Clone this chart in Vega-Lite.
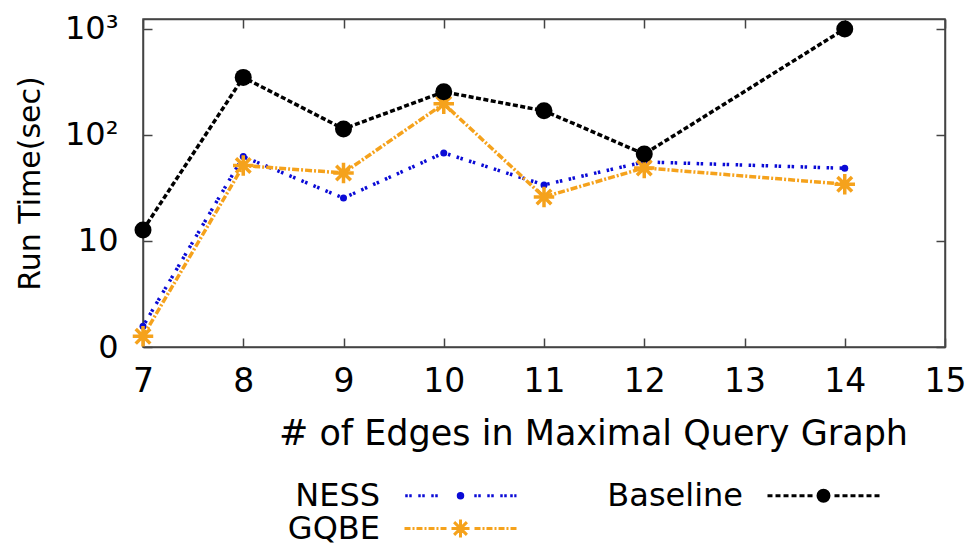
{
  "$schema": "https://vega.github.io/schema/vega-lite/v6.json",
  "width": 802,
  "height": 328,
  "autosize": {"type": "none"},
  "padding": {"left": 143, "top": 19, "right": 34, "bottom": 197},
  "background": "white",
  "config": {
    "font": "DejaVu Sans",
    "view": {"stroke": "#444", "strokeWidth": 1.5},
    "axis": {"grid": false, "domainColor": "#444", "domainWidth": 1.5, "tickColor": "#444", "tickWidth": 1.5, "labelColor": "#000", "titleColor": "#000", "titleFontWeight": "normal", "labelFont": "DejaVu Sans", "titleFont": "DejaVu Sans"},
    "legend": {"labelFont": "DejaVu Sans"}
  },
  "data": {
    "values": [
      {"edges": 7, "series": "NESS", "time": 1.57},
      {"edges": 8, "series": "NESS", "time": 62.5},
      {"edges": 9, "series": "NESS", "time": 25.4},
      {"edges": 10, "series": "NESS", "time": 67.7},
      {"edges": 11, "series": "NESS", "time": 33.8},
      {"edges": 12, "series": "NESS", "time": 55.7},
      {"edges": 14, "series": "NESS", "time": 48.5},
      {"edges": 7, "series": "GQBE", "time": 1.26},
      {"edges": 8, "series": "GQBE", "time": 51.4},
      {"edges": 9, "series": "GQBE", "time": 43.8},
      {"edges": 10, "series": "GQBE", "time": 197},
      {"edges": 11, "series": "GQBE", "time": 26},
      {"edges": 12, "series": "GQBE", "time": 48.9},
      {"edges": 14, "series": "GQBE", "time": 34.3},
      {"edges": 7, "series": "Baseline", "time": 12.7},
      {"edges": 8, "series": "Baseline", "time": 349},
      {"edges": 9, "series": "Baseline", "time": 114},
      {"edges": 10, "series": "Baseline", "time": 255},
      {"edges": 11, "series": "Baseline", "time": 169},
      {"edges": 12, "series": "Baseline", "time": 66},
      {"edges": 14, "series": "Baseline", "time": 1000}
    ]
  },
  "resolve": {
    "axis": {"x": "independent", "y": "independent"},
    "scale": {"shape": "independent", "fill": "independent", "stroke": "independent"}
  },
  "layer": [
    {
      "transform": [{"filter": "datum.series == 'NESS'"}],
      "mark": {"type": "line", "strokeWidth": 3.5, "stroke": "#0b0bd6", "strokeDash": [2.5, 1.5, 2.5, 6.5]},
      "encoding": {
        "x": {"field": "edges", "type": "quantitative", "scale": {"domain": [7, 15], "nice": false, "zero": false},
          "axis": {"orient": "bottom", "values": [7, 8, 9, 10, 11, 12, 13, 14, 15], "tickSize": -9, "labelPadding": 27, "labelFontSize": 33, "labelFlush": false,
            "title": "# of Edges in Maximal Query Graph", "titleFontSize": 35, "titleX": 450, "titleY": 86, "titleBaseline": "middle"}},
        "y": {"field": "time", "type": "quantitative", "scale": {"type": "log", "domain": [1, 1240], "nice": false},
          "axis": {"orient": "left", "values": [1, 10, 100, 1000], "tickSize": -9, "labelPadding": 34, "labelFontSize": 32, "labelFlush": false,
            "labelExpr": "datum.value == 1 ? '0' : datum.value == 10 ? '10' : datum.value == 100 ? '10²' : '10³'",
            "title": "Run Time(sec)", "titleFontSize": 30, "titleX": -113, "titleBaseline": "middle"}}
      }
    },
    {
      "transform": [{"filter": "datum.series == 'NESS'"}],
      "mark": {"type": "point", "filled": true, "opacity": 1, "shape": "circle", "fill": "#0b0bd6", "size": 49},
      "encoding": {
        "x": {"field": "edges", "type": "quantitative", "axis": null},
        "y": {"field": "time", "type": "quantitative", "axis": null}
      }
    },
    {
      "transform": [{"filter": "datum.series == 'GQBE'"}],
      "mark": {"type": "line", "strokeWidth": 3.5, "stroke": "#f5a21c", "strokeDash": [7, 2, 2, 2]},
      "encoding": {
        "x": {"field": "edges", "type": "quantitative", "axis": null},
        "y": {"field": "time", "type": "quantitative", "axis": null}
      }
    },
    {
      "transform": [{"filter": "datum.series == 'GQBE'"}],
      "mark": {"type": "point", "filled": false, "opacity": 1, "stroke": "#f5a21c", "strokeWidth": 3.5, "size": 420,
        "shape": "M-1,0L1,0M0,-1L0,1M-0.71,-0.71L0.71,0.71M-0.71,0.71L0.71,-0.71"},
      "encoding": {
        "x": {"field": "edges", "type": "quantitative", "axis": null},
        "y": {"field": "time", "type": "quantitative", "axis": null}
      }
    },
    {
      "transform": [{"filter": "datum.series == 'Baseline'"}],
      "mark": {"type": "line", "strokeWidth": 3.5, "stroke": "#000000", "strokeDash": [5, 2.5]},
      "encoding": {
        "x": {"field": "edges", "type": "quantitative", "axis": null},
        "y": {"field": "time", "type": "quantitative", "axis": null}
      }
    },
    {
      "transform": [{"filter": "datum.series == 'Baseline'"}],
      "mark": {"type": "point", "filled": true, "opacity": 1, "shape": "circle", "fill": "#000000", "size": 289},
      "encoding": {
        "x": {"field": "edges", "type": "quantitative", "axis": null},
        "y": {"field": "time", "type": "quantitative", "axis": null}
      }
    },
    {
      "transform": [{"filter": "datum.series != 'GQBE'"}],
      "mark": {"type": "point", "filled": true, "opacity": 0},
      "encoding": {
        "x": {"field": "edges", "type": "quantitative",
          "axis": {"orient": "top", "values": [7, 8, 9, 10, 11, 12, 13, 14, 15], "tickSize": -9, "labels": false, "title": null}},
        "y": {"field": "time", "type": "quantitative",
          "axis": {"orient": "right", "values": [1, 10, 100, 1000], "tickSize": -9, "labels": false, "title": null}},
        "fill": {"field": "series", "type": "nominal", "scale": {"domain": ["NESS", "Baseline"], "range": ["#0b0bd6", "#000000"]}},
        "stroke": {"field": "series", "type": "nominal", "scale": {"domain": ["NESS", "Baseline"], "range": ["#0b0bd6", "#000000"]}},
        "shape": {"field": "series", "type": "nominal",
          "scale": {"domain": ["NESS", "Baseline"], "range": [
            "M-0.987,0L-0.942,0M-0.915,0L-0.871,0M-0.754,0L-0.71,0M-0.683,0L-0.638,0M-0.522,0L-0.478,0M-0.451,0L-0.406,0M0.246,0L0.29,0M0.317,0L0.362,0M0.478,0L0.522,0M0.549,0L0.594,0M0.71,0L0.754,0M0.781,0L0.826,0M0.888,0L0.933,0M0.96,0L1,0M0.04,0A0.04,0.04,0,1,1,-0.04,0A0.04,0.04,0,1,1,0.04,0Z",
            "M-1,0L-0.911,0M-0.857,0L-0.768,0M-0.714,0L-0.625,0M-0.571,0L-0.482,0M-0.429,0L-0.339,0M-0.286,0L-0.196,0M0.196,0L0.286,0M0.339,0L0.429,0M0.482,0L0.571,0M0.625,0L0.714,0M0.768,0L0.857,0M0.911,0L1,0M0.098,0A0.098,0.098,0,1,1,-0.098,0A0.098,0.098,0,1,1,0.098,0Z"
          ]},
          "legend": {"orient": "none", "legendX": 260, "legendY": 419, "columns": 2, "direction": "vertical", "title": null, "labelFontSize": 32, "labelColor": "#000",
            "labelAlign": "right", "labelOffset": -138, "labelLimit": 500, "symbolSize": 12544, "symbolStrokeWidth": 3, "symbolOpacity": 1,
            "columnPadding": 84, "rowPadding": 0,
            "encode": {
              "symbols": {"opacity": {"value": 1}, "strokeWidth": {"value": 3}},
              "labels": {"opacity": {"value": 1}}
            }}
        }
      }
    },
    {
      "transform": [{"filter": "datum.series == 'GQBE'"}],
      "mark": {"type": "point", "filled": true, "opacity": 0},
      "encoding": {
        "x": {"field": "edges", "type": "quantitative", "axis": null},
        "y": {"field": "time", "type": "quantitative", "axis": null},
        "fill": {"field": "series", "type": "nominal", "scale": {"domain": ["GQBE"], "range": ["#f5a21c"]}},
        "stroke": {"field": "series", "type": "nominal", "scale": {"domain": ["GQBE"], "range": ["#f5a21c"]}},
        "shape": {"field": "series", "type": "nominal",
          "scale": {"domain": ["GQBE"], "range": [
            "M-1,0L-0.893,0M-0.857,0L-0.821,0M-0.786,0L-0.679,0M-0.643,0L-0.607,0M-0.571,0L-0.464,0M-0.429,0L-0.393,0M-0.357,0L-0.25,0M0.25,0L0.357,0M0.393,0L0.429,0M0.464,0L0.571,0M0.607,0L0.643,0M0.679,0L0.786,0M0.821,0L0.857,0M0.893,0L1,0M-0.161,0L0.161,0M0,-0.161L0,0.161M-0.114,-0.114L0.114,0.114M-0.114,0.114L0.114,-0.114"
          ]},
          "legend": {"orient": "none", "legendX": 260, "legendY": 452, "title": null, "labelFontSize": 32, "labelColor": "#000",
            "labelAlign": "right", "labelOffset": -138, "labelLimit": 500, "symbolSize": 12544, "symbolStrokeWidth": 3, "symbolOpacity": 1,
            "encode": {
              "symbols": {"opacity": {"value": 1}, "strokeWidth": {"value": 3}},
              "labels": {"opacity": {"value": 1}}
            }}
        }
      }
    }
  ]
}
